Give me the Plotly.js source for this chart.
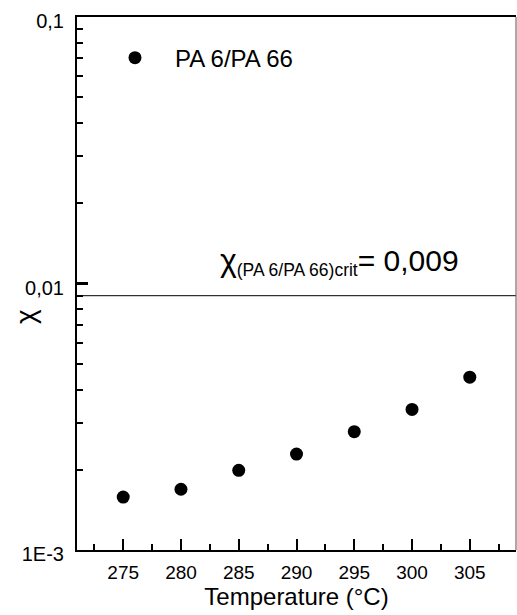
<!DOCTYPE html>
<html>
<head>
<meta charset="utf-8">
<script src="https://cdn.plot.ly/plotly-3.0.1.min.js"></script>
<style>
  html, body { margin: 0; padding: 0; background: #fff; }
  #chart { width: 517px; height: 615px; }
</style>
</head>
<body>
<div id="chart"></div>
<script>
// Flory–Huggins interaction parameter of the PA 6/PA 66 blend vs. melt temperature
var temperature = [275, 280, 285, 290, 295, 300, 305];
var chi = [0.00158, 0.00169, 0.00199, 0.00229, 0.00278, 0.00337, 0.00445];
var seriesName = 'PA 6/PA 66';

// critical value of the interaction parameter
var chiCrit = 0.009;

// axis ticks
var xTickVals = [275, 280, 285, 290, 295, 300, 305];
var xRange = [271, 309];
var yTickVals = [0.001, 0.01, 0.1];
var yTickText = ['1E-3', '0,01', '0,1'];
var yMinorVals = [0.002, 0.003, 0.004, 0.005, 0.006, 0.007, 0.008, 0.009,
                  0.02, 0.03, 0.04, 0.05, 0.06, 0.07, 0.08, 0.09];

var FONT = 'Liberation Sans, Arial, Helvetica, sans-serif';

var data = [
  {
    x: temperature,
    y: chi,
    type: 'scatter',
    mode: 'markers',
    name: seriesName,
    marker: { color: '#000', size: 13, symbol: 'circle' },
    cliponaxis: false
  },
  {
    x: xRange,
    y: [chiCrit, chiCrit],
    type: 'scatter',
    mode: 'lines',
    line: { color: '#000', width: 1 },
    showlegend: false,
    hoverinfo: 'skip'
  }
];

var critLabel = '<span style="font-size:32px">χ</span>' +
  '<sub>(PA 6/PA 66)crit</sub>' +
  '<span style="font-size:30px">= ' + String(chiCrit).replace('.', ',') + '</span>';

var layout = {
  width: 517,
  height: 615,
  margin: { l: 77, r: 1, t: 17, b: 65, pad: 0 },
  paper_bgcolor: '#fff',
  plot_bgcolor: '#fff',
  font: { family: FONT, color: '#000', size: 19 },
  showlegend: true,
  legend: {
    x: 0.041, xanchor: 'left',
    y: 0.923, yanchor: 'middle',
    bgcolor: 'rgba(0,0,0,0)',
    borderwidth: 0,
    itemwidth: 70,
    font: { family: FONT, size: 24, color: '#000' }
  },
  xaxis: {
    type: 'linear',
    range: xRange,
    tickmode: 'array',
    tickvals: xTickVals,
    ticks: 'inside',
    ticklen: 11,
    tickwidth: 2,
    tickcolor: '#000',
    ticklabelstandoff: 4,
    showline: true,
    linecolor: '#000',
    linewidth: 2,
    mirror: true,
    showgrid: false,
    zeroline: false,
    tickfont: { family: FONT, size: 19, color: '#000' },
    minor: { dtick: 2.5, tick0: 272.5, ticks: 'inside', ticklen: 6, tickwidth: 2, tickcolor: '#000', showgrid: false },
    title: { text: 'Temperature (°C)', font: { family: FONT, size: 24, color: '#000' }, standoff: 5 }
  },
  yaxis: {
    type: 'log',
    range: [-3, -1],
    tickmode: 'array',
    tickvals: yTickVals,
    ticktext: yTickText,
    ticks: 'inside',
    ticklen: 11,
    tickwidth: 3,
    tickcolor: '#000',
    ticklabelstandoff: 7,
    ticklabelshift: 4,
    showline: true,
    linecolor: '#000',
    linewidth: 2,
    mirror: false,
    showgrid: false,
    zeroline: false,
    tickfont: { family: FONT, size: 20, color: '#000' },
    minor: { tickmode: 'array', tickvals: yMinorVals, ticks: 'inside', ticklen: 6, tickwidth: 2, tickcolor: '#000', showgrid: false }
  },
  shapes: [
    {
      type: 'line', xref: 'paper', yref: 'paper',
      x0: 1, x1: 1, y0: 0, y1: 1,
      line: { color: '#555', width: 1 }
    }
  ],
  annotations: [
    {
      text: 'χ',
      xref: 'paper', yref: 'paper',
      x: 0, y: 0.437,
      xshift: -52,
      textangle: -90,
      showarrow: false,
      xanchor: 'center', yanchor: 'middle',
      font: { family: FONT, size: 28, color: '#000' }
    },
    {
      text: critLabel,
      xref: 'paper', yref: 'y',
      x: 0.321, y: Math.log10(chiCrit),
      xanchor: 'left', yanchor: 'bottom',
      yshift: 14,
      showarrow: false,
      font: { family: FONT, size: 25, color: '#000' }
    }
  ]
};

Plotly.newPlot('chart', data, layout, { displayModeBar: false, staticPlot: true });
</script>
</body>
</html>
